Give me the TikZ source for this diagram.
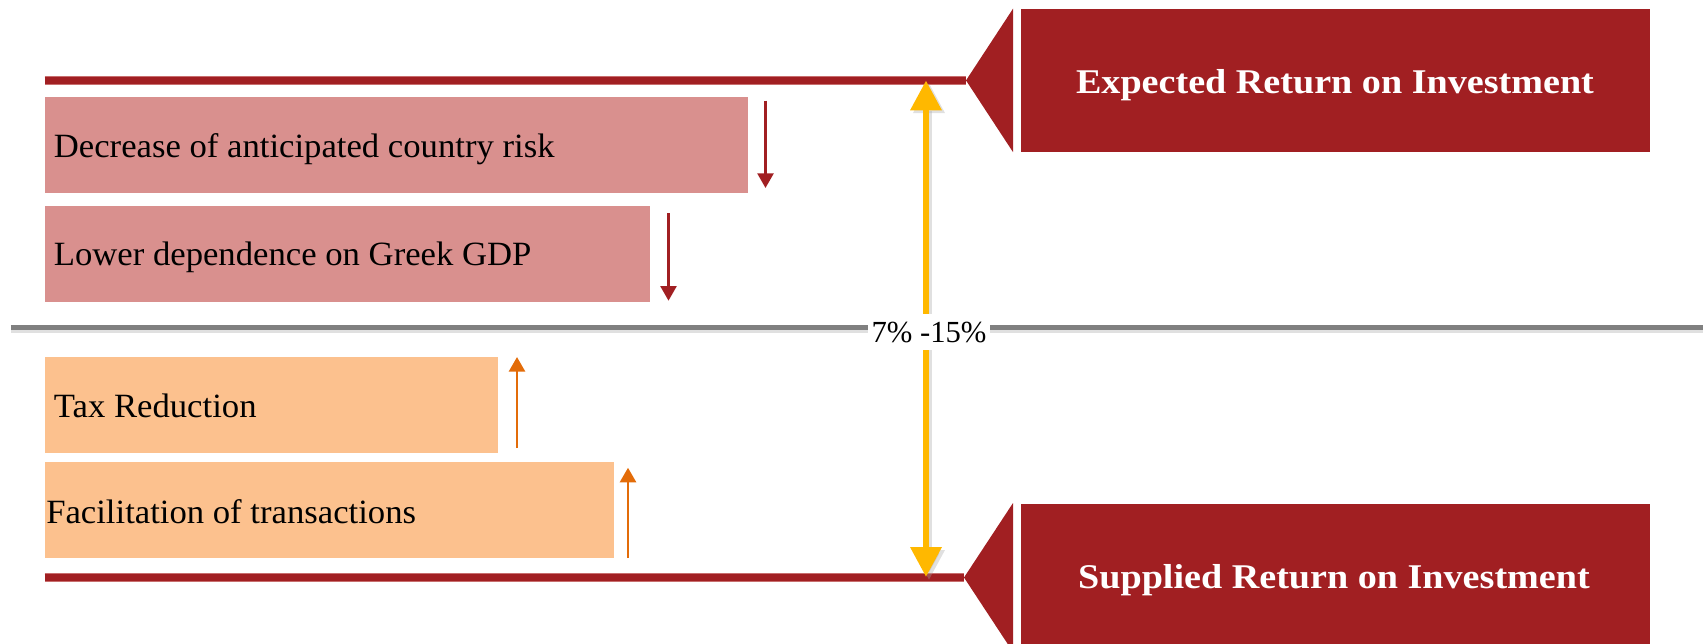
\documentclass[tikz,border=0pt]{standalone}
\usepackage{fontspec}
\setmainfont{Liberation Serif}[FakeStretch=1.02]
\newfontfamily\titlefont{Liberation Serif}[FakeStretch=1.1]
\newfontfamily\pctfont{Liberation Serif}
\usetikzlibrary{arrows.meta,calc}
\definecolor{boxred}{RGB}{161,31,34}
\definecolor{rimred}{RGB}{200,110,110}
\definecolor{barpinkc}{RGB}{217,144,142}
\definecolor{barorangec}{RGB}{252,193,142}
\definecolor{arroworange}{RGB}{227,108,9}
\definecolor{gold}{RGB}{255,184,0}
\definecolor{lineGrey}{RGB}{128,128,128}
\tikzset{
  barpink/.style={rectangle, fill=barpinkc, inner sep=0pt},
  barorange/.style={rectangle, fill=barorangec, inner sep=0pt},
  bartext/.style={inner sep=0pt, text=black, font=\fontsize{25.5}{28}\selectfont},
  redbox/.style={rectangle, fill=boxred, inner sep=0pt, minimum width=472.1pt, minimum height=107.5pt},
  titletext/.style={inner sep=0pt, text=white, font=\titlefont\bfseries\fontsize{26}{28}\selectfont},
  redrule/.style={line width=5.6pt, draw=boxred},
  redrim/.style={line width=6.6pt, draw=rimred},
  downarrow/.style={draw=boxred, line width=1.9pt, -{Triangle[width=12pt,length=11pt]}},
  uparrow/.style={draw=arroworange, line width=2.1pt, -{Triangle[width=12pt,length=11pt]}},
  goldarrow/.style={draw=gold, line width=5pt, {Triangle[width=22.5pt,length=22.5pt]}-{Triangle[width=22.5pt,length=22.5pt]}},
  shadowarrow/.style={draw=black!35, opacity=0.35, line width=5pt, {Triangle[width=22.5pt,length=22.5pt]}-{Triangle[width=22.5pt,length=22.5pt]}},
  greyline/.style={draw=lineGrey, line width=3.4pt},
  greyshadow/.style={draw=black!20, line width=3.4pt, opacity=0.6},
  pcttext/.style={fill=white, text=black, inner xsep=3pt, inner ysep=6pt, font=\pctfont\fontsize{23}{26}\selectfont}
}
\begin{document}
\begin{tikzpicture}[x=0.75pt,y=-0.75pt]
\useasboundingbox (0,0) rectangle (1703,643);
\clip (0,0) rectangle (1703,643);

% bars
\node[barpink, minimum width=527.5pt, minimum height=71.85pt] (b1) at (396.35,144.6) {};
\node[bartext, anchor=base west] (t1) at (53.6,157) {Decrease of anticipated country risk};
\node[barpink, minimum width=453.6pt, minimum height=71.8pt] (b2) at (347.1,253.85) {};
\node[bartext, anchor=base west] (t2) at (53.6,265.3) {Lower dependence on Greek GDP};
\node[barorange, minimum width=339.9pt, minimum height=72pt] (b3) at (271.2,404.7) {};
\node[bartext, anchor=base west] (t3) at (53.6,417.3) {Tax Reduction};
\node[barorange, minimum width=426.9pt, minimum height=72pt] (b4) at (329.2,509.7) {};
\node[bartext, anchor=base west] (t4) at (46,523) {Facilitation of transactions};

% small arrows
\coordinate (a1s) at (765.5,100.7); \coordinate (a1e) at (765.5,188);
\coordinate (a2s) at (668.5,213);   \coordinate (a2e) at (668.5,300.7);
\coordinate (a3s) at (517,448);     \coordinate (a3e) at (517,357);
\coordinate (a4s) at (628,558);     \coordinate (a4e) at (628,467.7);
\draw[downarrow] (a1s) -- (a1e);
\draw[downarrow] (a2s) -- (a2e);
\draw[uparrow] (a3s) -- (a3e);
\draw[uparrow] (a4s) -- (a4e);

% top structure
\coordinate (l1s) at (44.5,80.4); \coordinate (apex1) at (966,80.4);
\draw[redrim] (l1s) -- (apex1);
\draw[redrule] (l1s) -- (apex1);
\fill[boxred] (apex1) -- (1013,8.7) -- (1013,152.1) -- cycle;
\node[redbox] (topbox) at (1335.25,80.4) {};
\node[titletext, anchor=base] (toptext) at (1335,93.3) {Expected Return on Investment};

% bottom structure
\coordinate (l2s) at (44.5,577.5); \coordinate (apex2) at (964,577.5);
\draw[redrim] (l2s) -- (apex2);
\draw[redrule] (l2s) -- (apex2);
\fill[boxred] (apex2) -- (1013,503) -- (1013,652) -- cycle;
\node[redbox] (botbox) at (1335.25,575.5) {};
\node[titletext, anchor=base] (bottext) at (1334,588.3) {Supplied Return on Investment};

% middle grey line
\coordinate (gs) at (10.9,327.5); \coordinate (ge) at (1703,327.5);
\draw[greyshadow] ($(gs)+(0,3)$) -- ($(ge)+(0,3)$);
\draw[greyline] (gs) -- (ge);

% gold double arrow
\coordinate (ytop) at (926,80.4); \coordinate (ybot) at (926,577);
\draw[shadowarrow] (929,83) -- (929,580);
\draw[goldarrow] (ytop) -- (ybot);

% label
\node[pcttext, anchor=base] (pct) at (929,342) {7\% -15\%};
\end{tikzpicture}
\end{document}
